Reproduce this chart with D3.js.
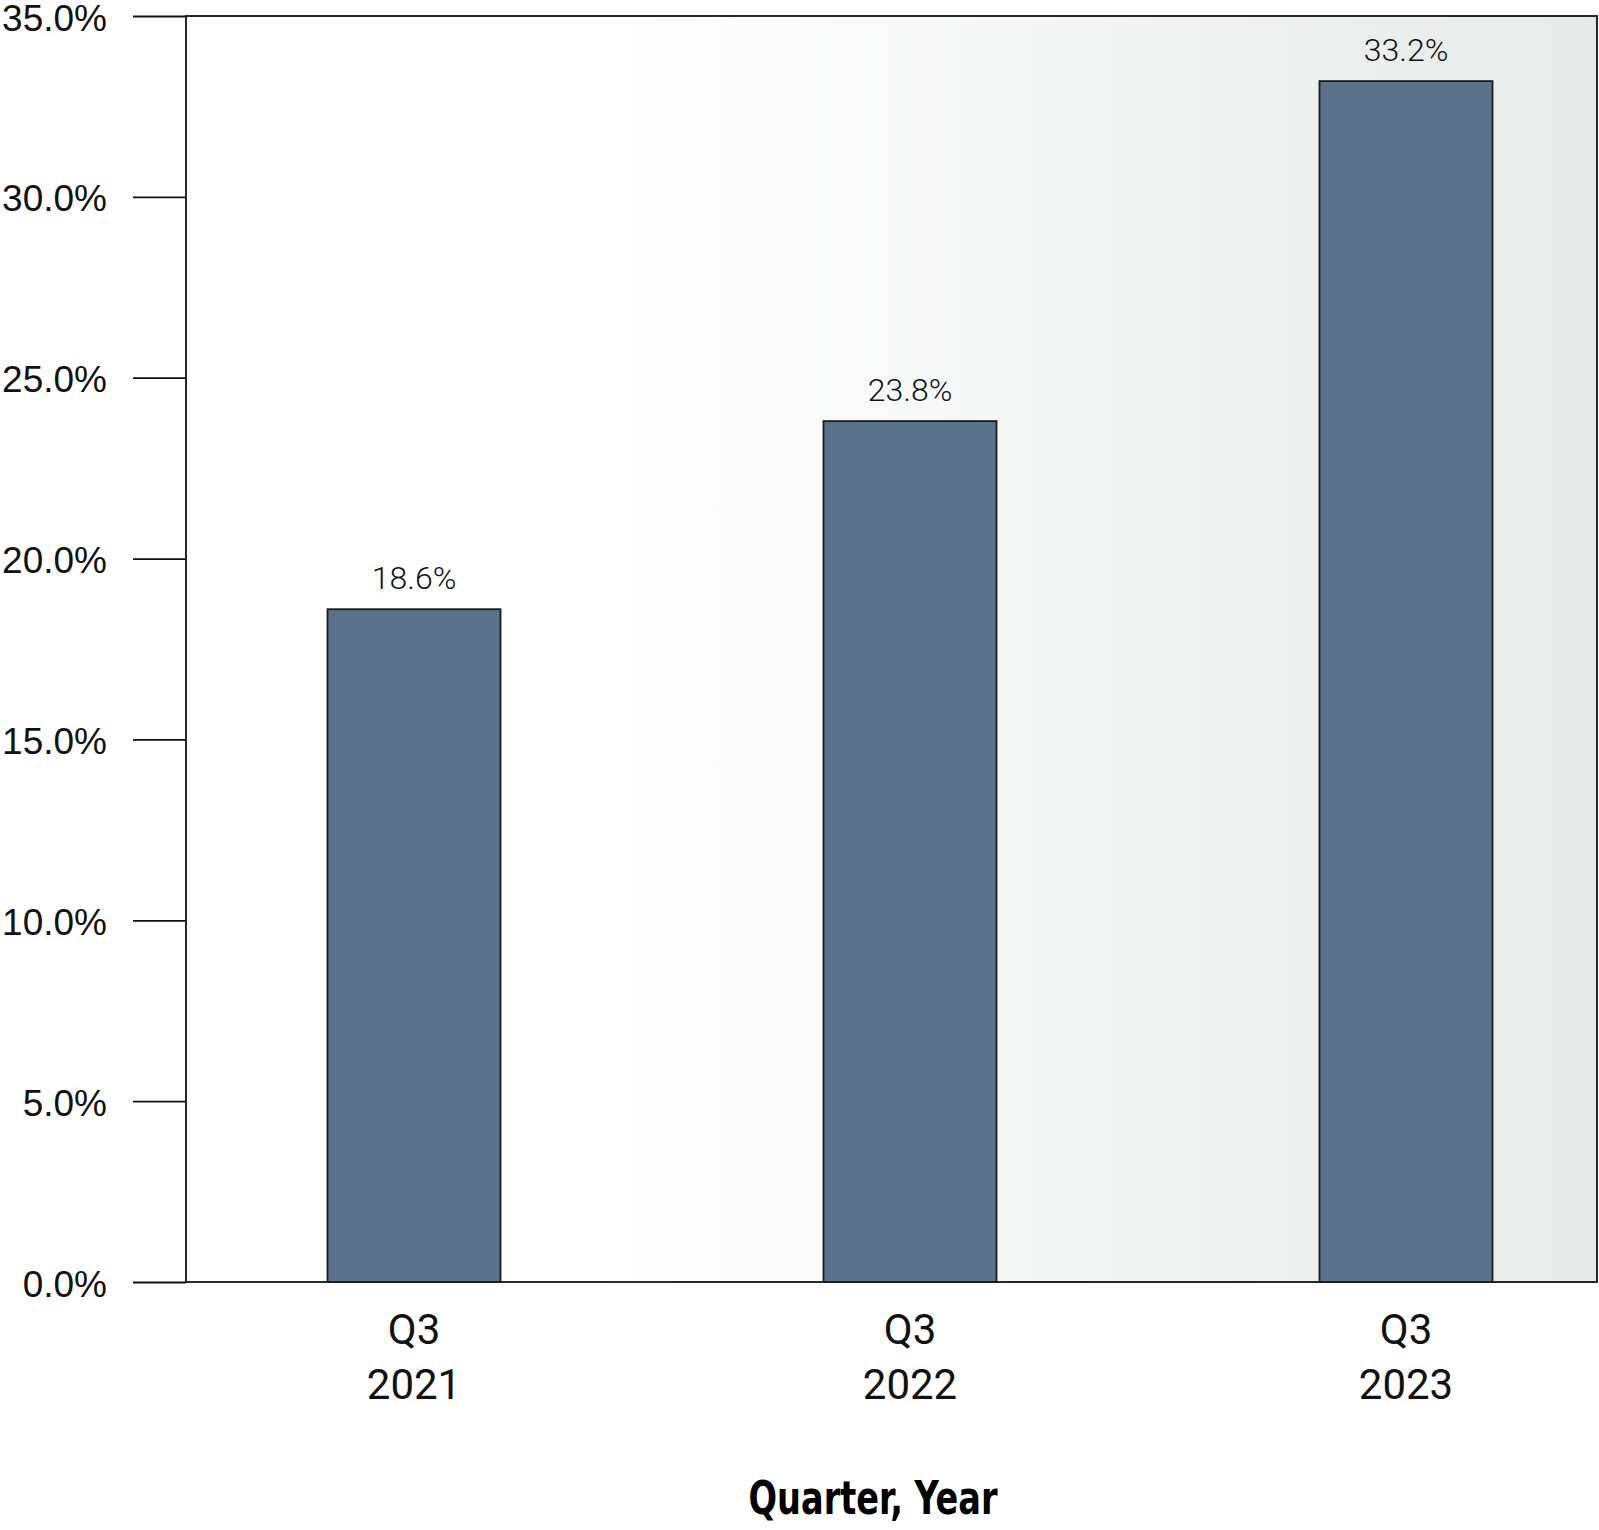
<!DOCTYPE html>
<html>
<head>
<meta charset="utf-8">
<script src="https://cdn.jsdelivr.net/npm/d3@7"></script>
<style>
  html, body { margin: 0; padding: 0; background: #fff; }
  svg { display: block; font-family: Roboto, "DejaVu Sans", sans-serif; }
</style>
</head>
<body>
<div id="chart"></div>
<script>
// data
var quarters = ["Q3", "Q3", "Q3"];
var years = ["2021", "2022", "2023"];
var shares = [18.6, 23.8, 33.2];
var yTicks = [0, 5, 10, 15, 20, 25, 30, 35];

var W = 1599, H = 1530;
var plot = {left: 186, right: 1597, top: 16, bottom: 1282};

var svg = d3.select("#chart").append("svg").attr("width", W).attr("height", H);

var defs = svg.append("defs");
var grad = defs.append("linearGradient").attr("id", "bg").attr("x1", "0%").attr("x2", "100%").attr("y1", "0%").attr("y2", "0%");
grad.append("stop").attr("offset", "0%").attr("stop-color", "#ffffff");
grad.append("stop").attr("offset", "30%").attr("stop-color", "#ffffff");
grad.append("stop").attr("offset", "100%").attr("stop-color", "#e6eae9");

var y = d3.scaleLinear().domain([0, 35]).range([plot.bottom, plot.top]);
var x = d3.scalePoint().domain(years).range([414, 1406]);
var barW = 173;

// plot background + frame
svg.append("rect")
  .attr("x", plot.left).attr("y", plot.top)
  .attr("width", plot.right - plot.left).attr("height", plot.bottom - plot.top)
  .attr("fill", "url(#bg)").attr("stroke", "#111").attr("stroke-width", 1.8);

// y axis
var yAxis = d3.axisLeft(y).tickValues(yTicks).tickSize(53).tickPadding(26)
  .tickFormat(function(d) { return d3.format(".1f")(d) + "%"; });
var gy = svg.append("g").attr("transform", "translate(" + plot.left + ",0)").call(yAxis);
gy.select(".domain").remove();
gy.selectAll(".tick line").attr("stroke", "#111").attr("stroke-width", 1.8);
gy.selectAll(".tick text").attr("fill", "#111").attr("font-size", 37).attr("font-weight", 300)
  .attr("dy", "0.38em");

// bars
var data = years.map(function(yr, i) { return {year: yr, q: quarters[i], v: shares[i]}; });
svg.append("g").selectAll("rect").data(data).enter().append("rect")
  .attr("x", function(d) { return x(d.year) - barW / 2; })
  .attr("y", function(d) { return y(d.v); })
  .attr("width", barW)
  .attr("height", function(d) { return y(0) - y(d.v); })
  .attr("fill", "#5a728c").attr("stroke", "#1a1a1a").attr("stroke-width", 1.8);

// value labels
svg.append("g").selectAll("text").data(data).enter().append("text")
  .attr("x", function(d) { return x(d.year); })
  .attr("y", function(d) { return y(d.v) - 20; })
  .attr("text-anchor", "middle").attr("font-size", 32).attr("font-weight", 300).attr("fill", "#111")
  .text(function(d) { return d.v.toFixed(1) + "%"; });

// category labels
var cat = svg.append("g").selectAll("text").data(data).enter().append("text")
  .attr("text-anchor", "middle").attr("font-size", 42).attr("fill", "#111");
cat.append("tspan").attr("x", function(d) { return x(d.year); }).attr("y", 1344).text(function(d) { return d.q; });
cat.append("tspan").attr("x", function(d) { return x(d.year); }).attr("y", 1399).text(function(d) { return d.year; });

// axis title
svg.append("text")
  .attr("x", 873).attr("y", 1514)
  .attr("text-anchor", "middle")
  .attr("font-family", "'Liberation Sans Narrow', 'Arial Narrow', 'DejaVu Sans Condensed', sans-serif")
  .attr("font-weight", "bold").attr("font-size", 46).attr("fill", "#000")
  .attr("textLength", 249).attr("lengthAdjust", "spacingAndGlyphs")
  .text("Quarter, Year");
</script>
</body>
</html>
